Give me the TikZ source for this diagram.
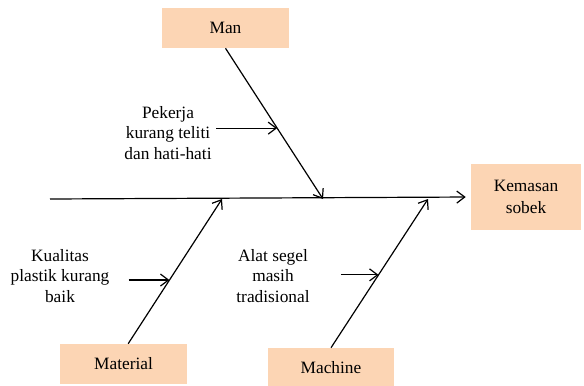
\documentclass[tikz,border=0pt]{standalone}
\usepackage{fontspec}
\setmainfont{Liberation Serif}
\usepackage{tikz}
\usetikzlibrary{arrows.meta, positioning, calc}
\definecolor{peach}{HTML}{FCD5B4}
\tikzset{
  cat/.style={
    rectangle, draw=none, fill=peach,
    minimum width=95pt, minimum height=30pt,
    font=\fontsize{13}{16}\selectfont
  },
  cause/.style={
    align=center, font=\fontsize{13}{15.5}\selectfont
  },
  arr/.style={line width=0.9pt, -{Straight Barb[length=6pt,width=9pt]}}
}
\begin{document}
\begin{tikzpicture}[x=0.75pt, y=-0.75pt]

  \useasboundingbox (0,0) rectangle (584,385);

  \node[cat] (man)      at (225.5,28) {Man};
  \node[cat] (material) at (123.5,364) {Material};
  \node[cat] (machine)  at (331,368)  {Machine};
  \node[cat, minimum width=83pt, minimum height=49pt, align=center]
    (effect) at (526,197) {Kemasan\\sobek};

  \node[cause] (pekerja)  at (168,133) {Pekerja\\kurang teliti\\dan hati-hati};
  \node[cause] (kualitas) at (60,276)  {Kualitas\\plastik kurang\\baik};
  \node[cause] (alat)     at (273,276) {Alat segel\\masih\\tradisional};

  \coordinate (tail)   at (50,199);
  \coordinate (hitman) at (323,199);
  \coordinate (hitmat) at (222,199);
  \coordinate (hitmac) at (428,199);

  \draw[arr, shorten >=3.5pt] (tail) -- (effect.west);

  \draw[arr] (man.south) -- (hitman);
  \draw[arr] ([xshift=3.5pt]material.north) -- (hitmat);
  \draw[arr] (machine.north) -- (hitmac);

  \coordinate (pk) at ($(man.south)!0.53!(hitman)$);
  \coordinate (kp) at ($([xshift=3.5pt]material.north)!0.44!(hitmat)$);
  \coordinate (am) at ($(machine.north)!0.49!(hitmac)$);

  \draw[arr] (pekerja.east |- pk) -- (pk);
  \draw[arr, shorten <=11pt] (kualitas.east |- kp) -- (kp);
  \draw[arr, shorten <=20pt] (alat.east |- am) -- (am);

\end{tikzpicture}
\end{document}
